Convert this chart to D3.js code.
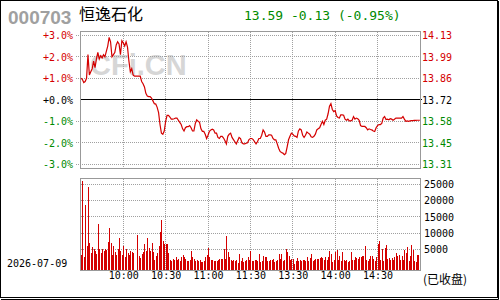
<!DOCTYPE html>
<html>
<head>
<meta charset="utf-8">
<script src="https://cdn.jsdelivr.net/npm/d3@7"></script>
<style>
  html, body { margin: 0; padding: 0; background: #fff; }
  svg { display: block; }
  text { font-family: "DejaVu Sans Mono", monospace; font-size: 10px; }
</style>
</head>
<body>
<svg width="500" height="300"></svg>
<script>
const stockCode = "000703", stockName = "恒逸石化";
const lastPrice = 13.59, change = -0.13, changePct = -0.95;
const prevClose = 13.72;
const tradeDate = "2026-07-09";

// percent change vs previous close, one value per minute 9:30 .. 15:00
const pctChange = [
  1.0, 0.95, 0.8, 0.85, 1.0, 2.1, 1.15, 1.3, 1.45, 1.8,
  1.5, 1.9, 2.2, 1.9, 2.05, 1.95, 2.1, 2.0, 2.25, 2.5,
  2.9, 2.7, 2.0, 2.1, 2.2, 2.55, 2.7, 2.6, 2.1, 2.75,
  2.65, 2.5, 2.7, 2.45, 1.8, 1.3, 1.45, 1.15, 1.1, 1.1,
  1.1, 1.1, 1.1, 0.85, 0.75, 0.6, 0.3, 0.18, 0.15, 0.15,
  0.08, -0.05, -0.18, -0.2, -0.35, -0.6, -1.15, -1.55, -1.6, -1.45,
  -1.0, -0.72, -0.72, -0.8, -0.9, -0.9, -0.88, -0.85, -0.85, -0.95,
  -1.05, -1.15, -1.35, -1.45, -1.3, -1.25, -1.25, -1.2, -1.3, -1.45,
  -1.45, -1.1, -0.93, -1.0, -1.05, -1.35, -1.47, -1.47, -1.6, -1.8,
  -1.65, -1.47, -1.4, -1.37, -1.4, -1.55, -1.55, -1.75, -1.8, -1.7,
  -1.7, -1.78, -1.9, -2.05, -1.7, -1.6, -1.55, -1.75, -1.85, -1.95,
  -2.05, -1.9, -1.75, -1.8, -2.0, -2.05, -2.05, -2.02, -2.0, -1.85,
  -1.8, -1.8, -1.85, -1.95, -2.05, -1.95, -1.8, -1.8, -1.65, -1.4,
  -1.5, -1.7, -1.7, -1.63, -1.63, -1.65, -1.8, -1.86, -1.86, -2.05,
  -2.25, -2.4, -2.45, -2.48, -2.55, -2.5, -2.2, -1.86, -1.7, -1.55,
  -1.6, -1.68, -1.7, -1.75, -1.45, -1.35, -1.4, -1.65, -1.75, -1.65,
  -1.5, -1.55, -1.6, -1.72, -1.75, -1.7, -1.6, -1.4, -1.35, -1.3,
  -1.15, -1.0, -1.15, -0.95, -0.9, -0.65, -0.3, -0.18, -0.45, -0.55,
  -0.5, -0.75, -0.82, -0.85, -0.7, -0.7, -0.72, -0.9, -0.95, -0.9,
  -0.98, -0.98, -0.95, -0.78, -0.9, -0.85, -0.88, -0.95, -1.2, -1.24,
  -1.24, -1.24, -1.3, -1.4, -1.35, -1.38, -1.4, -1.45, -1.47, -1.3,
  -1.2, -1.15, -1.15, -1.1, -0.85, -0.78, -0.92, -0.9, -0.93, -0.88,
  -0.9, -0.95, -0.9, -0.85, -0.85, -0.85, -0.85, -0.85, -0.78, -0.9,
  -1.0, -0.98, -1.0, -0.98, -0.97, -0.97, -0.96, -0.96, -0.95, -0.95,
  -0.95
];

// volume (lots) per minute
const volume = [
  3300, 26000, 2500, 18700, 6000, 24300, 6900, 4000, 5700, 5000,
  4500, 3500, 12700, 5000, 4000, 5000, 4500, 5000, 4800, 7400,
  11700, 7100, 3300, 6100, 4200, 3300, 5000, 8500, 4500, 3300,
  6100, 2700, 5000, 4000, 3300, 4500, 4200, 4000, 0, 0,
  9400, 3000, 2200, 3500, 4300, 6600, 4500, 8500, 5350, 4500,
  6900, 4300, 1650, 3000, 4000, 6100, 10200, 14100, 7600, 6600,
  6600, 6600, 4000, 1650, 1400, 2000, 1650, 2500, 1650, 2000,
  1400, 2500, 3300, 2500, 2000, 1500, 1250, 1650, 4500, 2500,
  2000, 1400, 1650, 1400, 1650, 1200, 1000, 1400, 2500, 3300,
  5350, 2500, 1650, 1850, 1250, 1400, 1500, 1650, 2050, 2050,
  2150, 5050, 1950, 9200, 4100, 2700, 1650, 1400, 1650, 1500,
  1850, 900, 3700, 1400, 2350, 1150, 1300, 1650, 2500, 1800,
  4500, 1400, 1400, 1650, 1850, 1500, 3700, 1000, 1400, 3000,
  2700, 2700, 1400, 1400, 1850, 1600, 2050, 1000, 1400, 1850,
  3500, 2050, 3500, 1500, 1650, 4950, 4100, 2900, 1650, 2150,
  2150, 400, 1500, 2250, 1400, 1850, 1500, 1650, 1850, 1250,
  2500, 1400, 2250, 3700, 1250, 1600, 2050, 2050, 2050, 2250,
  2500, 2250, 1800, 2700, 1650, 2500, 4500, 3500, 1000, 1800,
  4300, 4700, 1650, 2900, 1400, 4300, 1650, 1500, 1850, 1000,
  1400, 4300, 1650, 1850, 2700, 2250, 1900, 2500, 2500, 2900,
  3000, 6100, 1850, 1400, 2000, 3000, 3000, 2050, 1400, 2500,
  6600, 7600, 1850, 4950, 1400, 5350, 6400, 2050, 2250, 1850,
  2250, 1650, 2500, 4000, 2800, 3300, 1650, 2900, 1850, 4700,
  4000, 5600, 1250, 3000, 6400, 4700, 1400, 1000, 3300, 3300,
  3300
];

const pctTicks = [3, 2, 1, 0, -1, -2, -3];
const volTicks = [25000, 20000, 15000, 10000, 5000];
const timeTicks = [30, 60, 90, 120, 150, 180, 210];
const timeLabels = ["10:00", "10:30", "11:00", "11:30", "13:30", "14:00", "14:30"];

const RED = "#d40000", GREEN = "#008a00", GRID = "#a0a0a0", FRAME = "#999";
const svg = d3.select("svg");

const x = d3.scaleLinear().domain([0, 240]).range([80.9, 419.9]);
const yPct = d3.scaleLinear().domain([-3, 3]).range([164.3, 35.3]);
const yPrice = d3.scaleLinear().domain([prevClose * 0.97, prevClose * 1.03]).range([164.3, 35.3]);
const yVol = d3.scaleLinear().domain([0, 25000]).range([265.5, 184.6]);
const px = v => Math.floor(v) + 0.5;

// outer border
svg.append("rect").attr("x", 0.5).attr("y", 0.5).attr("width", 497).attr("height", 297)
  .attr("fill", "#fff").attr("stroke", "#000");
svg.append("path").attr("d", "M498.5,1V299.5H1").attr("fill", "none").attr("stroke", "#000");

// header
svg.append("text").attr("x", 8).attr("y", 23.5)
  .style("font-family", "'Liberation Sans', Arial, sans-serif").style("font-size", "19px")
  .style("font-weight", "bold").attr("fill", "#a0a0a0").text(stockCode);
svg.append("text").attr("x", 79).attr("y", 20)
  .style("font-family", "'Noto Sans CJK SC', sans-serif").style("font-size", "16px")
  .attr("fill", "#000").text(stockName);
svg.append("text").attr("x", 244).attr("y", 19.5)
  .style("font-size", "13px").attr("fill", GREEN)
  .text(`${lastPrice.toFixed(2)} ${change.toFixed(2)} (${changePct.toFixed(2)}%)`);

// watermark
svg.append("text").attr("x", 90).attr("y", 75)
  .style("font-family", "'Liberation Sans', Arial, sans-serif").style("font-size", "29px")
  .style("font-weight", "bold").attr("fill", "#d6d6d6").text("CFi.CN");

// main grid
const main = svg.append("g").attr("shape-rendering", "crispEdges");
main.selectAll("line.h").data(pctTicks.filter(d => d !== 0)).join("line")
  .attr("x1", 76).attr("x2", 420)
  .attr("y1", d => px(yPct(d))).attr("y2", d => px(yPct(d)))
  .attr("stroke", GRID).attr("stroke-dasharray", "1,1");
main.selectAll("line.v").data(timeTicks).join("line")
  .attr("x1", d => px(x(d))).attr("x2", d => px(x(d)))
  .attr("y1", 32).attr("y2", 168)
  .attr("stroke", GRID).attr("stroke-dasharray", "1,1");
main.append("line").attr("x1", 81).attr("x2", 422)
  .attr("y1", px(yPct(0))).attr("y2", px(yPct(0)))
  .attr("stroke", "#000").attr("stroke-width", 1);
main.append("rect").attr("x", 80.5).attr("y", 31.5).attr("width", 340).attr("height", 137)
  .attr("fill", "none").attr("stroke", FRAME);

// price line
svg.append("path").datum(pctChange)
  .attr("fill", "none").attr("stroke", RED).attr("stroke-width", 1.2)
  .attr("d", d3.line().x((d, i) => x(i)).y(d => yPct(d)));

// left axis (percent)
const pctColor = d => d > 0 ? RED : d < 0 ? GREEN : "#000";
const leftAxis = svg.append("g").attr("transform", "translate(73,0)")
  .call(d3.axisLeft(yPct).tickValues(pctTicks).tickSize(0).tickPadding(0)
    .tickFormat(d => (d >= 0 ? "+" : "") + d.toFixed(1) + "%"));
leftAxis.select(".domain").remove();
leftAxis.selectAll("text").attr("fill", d => pctColor(d))
  .style("font-family", "'DejaVu Sans Mono', monospace").style("font-size", "10px");

// right axis (price)
const rightAxis = svg.append("g").attr("transform", "translate(422,0)")
  .call(d3.axisRight(yPrice).tickValues(pctTicks.map(p => prevClose * (1 + p / 100)))
    .tickSize(0).tickPadding(0).tickFormat(d => d.toFixed(2)));
rightAxis.select(".domain").remove();
rightAxis.selectAll("text").attr("fill", d => pctColor(d - prevClose))
  .style("font-family", "'DejaVu Sans Mono', monospace").style("font-size", "10px");

// volume panel
const vol = svg.append("g").attr("shape-rendering", "crispEdges");
vol.selectAll("line.h").data(volTicks).join("line")
  .attr("x1", 81).attr("x2", 420)
  .attr("y1", d => px(yVol(d))).attr("y2", d => px(yVol(d)))
  .attr("stroke", GRID).attr("stroke-dasharray", "1,1");
vol.selectAll("line.v").data(timeTicks).join("line")
  .attr("x1", d => px(x(d))).attr("x2", d => px(x(d)))
  .attr("y1", 179).attr("y2", 270)
  .attr("stroke", GRID).attr("stroke-dasharray", "1,1");
vol.selectAll("rect.bar").data(volume.map((v, i) => ({ i, v })).filter(d => d.v > 0)).join("rect")
  .attr("x", d => Math.round(x(d.i)))
  .attr("width", 1)
  .attr("y", d => Math.round(yVol(d.v)))
  .attr("height", d => 270 - Math.round(yVol(d.v)))
  .attr("fill", RED);
vol.append("rect").attr("x", 80.5).attr("y", 178.5).attr("width", 340).attr("height", 92)
  .attr("fill", "none").attr("stroke", FRAME);

const volAxis = svg.append("g").attr("transform", "translate(424,0)")
  .call(d3.axisRight(yVol).tickValues(volTicks).tickSize(0).tickPadding(0).tickFormat(d3.format("d")));
volAxis.select(".domain").remove();
volAxis.selectAll("text").attr("fill", "#000")
  .style("font-family", "'DejaVu Sans Mono', monospace").style("font-size", "10px");

// time axis
const timeAxis = svg.append("g").attr("transform", "translate(0,272)")
  .call(d3.axisBottom(x).tickValues(timeTicks).tickSize(0).tickPadding(0)
    .tickFormat((d, i) => timeLabels[i]));
timeAxis.select(".domain").remove();
timeAxis.selectAll("text").attr("fill", "#000")
  .style("font-family", "'DejaVu Sans Mono', monospace").style("font-size", "10px");

svg.append("text").attr("x", 7).attr("y", 267).attr("fill", "#000").text(tradeDate);
svg.append("text").attr("x", 423).attr("y", 284).attr("fill", "#000")
  .style("font-family", "'Noto Sans CJK SC', sans-serif").style("font-size", "12px")
  .text("(已收盘)");
</script>
</body>
</html>
